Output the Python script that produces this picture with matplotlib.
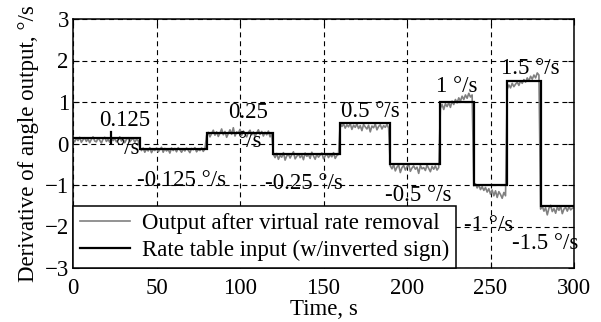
import matplotlib
matplotlib.use("Agg")
import matplotlib.pyplot as plt
import numpy as np

# ---------------- data ----------------
step_edges = [0, 40, 80, 120, 160, 190, 220, 240, 260, 280, 300]
step_rates = [0.125, -0.125, 0.25, -0.25, 0.5, -0.5, 1.0, -1.0, 1.5, -1.5]

out_seg1 = [0.10, 0.04, 0.13, 0.07, 0.15, 0.03, 0.09, 0.14, 0.05, 0.11, 0.02, 0.10, 0.16, 0.06, 0.04, 0.13, 0.08, 0.01, 0.11, 0.15,
            0.05, 0.10, 0.03, 0.14, 0.07, 0.12, 0.04, 0.09, 0.16, 0.06, 0.11, 0.02, 0.10, 0.14, 0.04, 0.09, 0.13, 0.03, 0.10, 0.07]
out_seg2 = [-0.09, -0.17, -0.11, -0.21, -0.13, -0.18, -0.10, -0.22, -0.14, -0.17, -0.11, -0.20, -0.15, -0.09, -0.21, -0.12, -0.18, -0.14, -0.23, -0.11,
            -0.17, -0.12, -0.20, -0.10, -0.15, -0.21, -0.13, -0.18, -0.11, -0.16, -0.22, -0.12, -0.15, -0.10, -0.20, -0.14, -0.17, -0.11, -0.19, -0.13]
out_seg3 = [0.19, 0.27, 0.16, 0.24, 0.32, 0.20, 0.28, 0.17, 0.25, 0.35, 0.21, 0.29, 0.15, 0.24, 0.33, 0.22, 0.38, 0.18, 0.28, 0.25,
            0.34, 0.20, 0.30, 0.23, 0.16, 0.27, 0.32, 0.21, 0.28, 0.17, 0.25, 0.33, 0.22, 0.29, 0.18, 0.27, 0.21, 0.30, 0.16, 0.24]
out_seg4 = [-0.26, -0.34, -0.24, -0.38, -0.29, -0.33, -0.22, -0.40, -0.30, -0.26, -0.35, -0.27, -0.20, -0.37, -0.31, -0.25, -0.34, -0.28, -0.39, -0.23,
            -0.31, -0.27, -0.36, -0.21, -0.30, -0.38, -0.26, -0.33, -0.28, -0.23, -0.37, -0.30, -0.25, -0.34, -0.27, -0.32, -0.22, -0.36, -0.29, -0.26]
out_seg5 = [0.49, 0.41, 0.47, 0.37, 0.45, 0.40, 0.48, 0.34, 0.44, 0.39, 0.47, 0.36, 0.43, 0.31, 0.46, 0.40, 0.35, 0.44, 0.28, 0.42,
            0.38, 0.47, 0.33, 0.41, 0.45, 0.35, 0.43, 0.39, 0.46, 0.37]
out_seg6 = [-0.54, -0.61, -0.51, -0.66, -0.57, -0.52, -0.70, -0.58, -0.53, -0.64, -0.56, -0.50, -0.67, -0.59, -0.54, -0.62, -0.57, -0.72, -0.53, -0.61,
            -0.58, -0.65, -0.52, -0.60, -0.68, -0.55, -0.62, -0.54, -0.64, -0.58]
out_seg7 = [0.85, 0.94, 0.82, 0.96, 0.89, 0.98, 0.87, 1.02, 0.94, 1.06, 0.98, 1.10, 1.02, 1.14, 1.06, 1.17, 1.09, 1.21, 1.12, 1.17]
out_seg8 = [-1.02, -0.97, -1.07, -1.00, -1.11, -1.04, -1.13, -1.06, -1.17, -1.09, -1.22, -1.12, -1.26, -1.14, -1.30, -1.16, -1.23, -1.32, -1.18, -1.26]
out_seg9 = [1.31, 1.41, 1.34, 1.45, 1.37, 1.43, 1.48, 1.40, 1.51, 1.45, 1.54, 1.48, 1.58, 1.51, 1.62, 1.55, 1.65, 1.58, 1.70, 1.65]
out_seg10 = [-1.58, -1.51, -1.63, -1.55, -1.72, -1.56, -1.49, -1.64, -1.57, -1.68, -1.53, -1.61, -1.51, -1.69, -1.58, -1.54, -1.63, -1.52, -1.60, -1.56, -1.55]

rate_labels = ["0.125", "-0.125 °/s", "0.25", "-0.25 °/s", "0.5 °/s", "-0.5 °/s", "1 °/s", "-1 °/s", "1.5 °/s", "-1.5 °/s"]
label_x = [31, 65, 105, 138, 178, 207, 230, 249, 274, 283]
label_y = [0.55, -0.90, 0.75, -0.97, 0.77, -1.25, 1.37, -1.98, 1.80, -2.41]

legend_labels = ["Output after virtual rate removal", "Rate table input (w/inverted sign)"]
xticks = [0, 50, 100, 150, 200, 250, 300]
yticks = [-3, -2, -1, 0, 1, 2, 3]

# ---------------- plot ----------------
FS = 16.5
plt.rcParams['font.family'] = ['Liberation Serif', 'DejaVu Serif']
plt.rcParams['font.size'] = FS

fig = plt.figure(figsize=(6.01, 3.22), dpi=100)
ax = fig.add_axes([73/601, 1-268/322, (574-73)/601, (268-19)/322])

output = np.array(out_seg1 + out_seg2 + out_seg3 + out_seg4 + out_seg5 + out_seg6 +
                  out_seg7 + out_seg8 + out_seg9 + out_seg10)
t = np.arange(len(output))

ax.plot(t, output, color='#808080', lw=1.2, label=legend_labels[0], zorder=2)
ax.stairs(step_rates, step_edges, baseline=None, color='black', lw=1.6,
          label=legend_labels[1], zorder=3)

# small marker tick on the first step
ax.plot([23, 23], [0.02, 0.28], color='black', lw=1.6, zorder=3)

for s, x, y in zip(rate_labels, label_x, label_y):
    ax.text(x, y, s, ha='center', va='center', fontsize=FS, zorder=4)
ax.text(33, -0.12, "°/s", ha='center', va='center', fontsize=FS, zorder=4)
ax.text(106, 0.05, "°/s", ha='center', va='center', fontsize=FS, zorder=4)

ax.set_xlim(0, 300)
ax.set_ylim(-3, 3)
ax.set_xticks(xticks)
ax.set_yticks(yticks)
ax.grid(True, color='black', lw=0.8, linestyle=(0, (4.5, 3.5)))
ax.tick_params(direction='in', top=True, right=True, length=4, width=0.8)
ax.tick_params(axis='x', pad=7)
ax.tick_params(axis='y', pad=3)
for sp in ax.spines.values():
    sp.set_linewidth(1.1)

ax.set_xlabel("Time, s", labelpad=0)
ax.set_ylabel("Derivative of angle output, °/s", labelpad=4)

leg = ax.legend(loc='lower left', borderaxespad=0, fancybox=False, edgecolor='black',
                framealpha=1, handlelength=2.2, handletextpad=0.5, labelspacing=0.25,
                borderpad=0.3, fontsize=FS)
leg.get_frame().set_linewidth(1.1)
leg.set_zorder(5)

fig.savefig("out.png", dpi=100)
